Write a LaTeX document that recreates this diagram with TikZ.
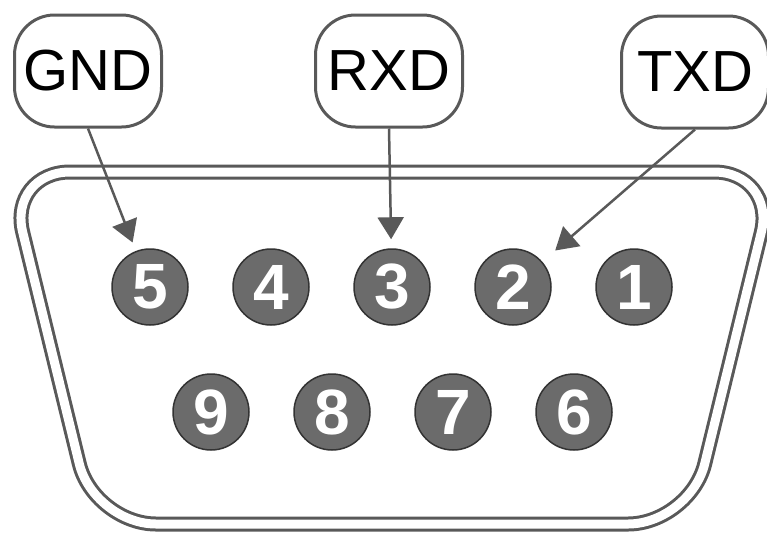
\documentclass[tikz,border=0pt]{standalone}
\usepackage{fontspec}
\setmainfont{Liberation Sans}
\usetikzlibrary{positioning,arrows.meta}

\begin{document}
\begin{tikzpicture}[x=1pt,y=-1pt,
  sigbox/.style={draw=black!65, line width=3pt, rounded corners=40pt,
    minimum width=147pt, minimum height=112pt, inner sep=0pt,
    font=\fontsize{58}{60}\selectfont},
  contact/.style={circle, fill=black!58, draw=black!80, line width=1.5pt,
    minimum size=76pt, inner sep=0pt, text=white,
    font=\bfseries\fontsize{64}{64}\selectfont},
  sig/.style={draw=black!65, line width=2.5pt,
    -{Triangle[length=22pt,width=26pt]}, shorten >=9pt},
  shell/.style={draw=black!65, line width=3pt, double=white,
    double distance=9pt, rounded corners=62pt}]
\useasboundingbox (0,0) rectangle (767,533);

\def\ya{287}
\def\yb{412}

\def\xa{150};
\def\xb{271};
\def\xc{392};
\def\xd{513};
\def\xe{634};

\def\xf{211};
\def\xg{332};
\def\xh{453};
\def\xi{574};

% shell of the plug
\draw[shell] (392,172) -- (776,172) -- (690,524) -- (94,524) -- (8,172) -- cycle;

\node[contact] (p5) at (\xa, \ya) {5};
\node[contact] (p4) at (\xb, \ya) {4};
\node[contact] (p3) at (\xc, \ya) {3};
\node[contact] (p2) at (\xd, \ya) {2};
\node[contact] (p1) at (\xe, \ya) {1};

\node[contact] (p9) at (\xf, \yb) {9};
\node[contact] (p8) at (\xg, \yb) {8};
\node[contact] (p7) at (\xh, \yb) {7};
\node[contact] (p6) at (\xi, \yb) {6};

\node[sigbox] (gnd) at (88, 71) {GND};
\node[sigbox] (rxd) at (389, 71) {RXD};
\node[sigbox] (txd) at (695, 72) {TXD};

\draw[sig] (gnd.south) -- (p5);
\draw[sig] (rxd.south) -- (p3);
\draw[sig, shorten >=17pt] (txd.south) -- (p2);
\end{tikzpicture}
\end{document}
